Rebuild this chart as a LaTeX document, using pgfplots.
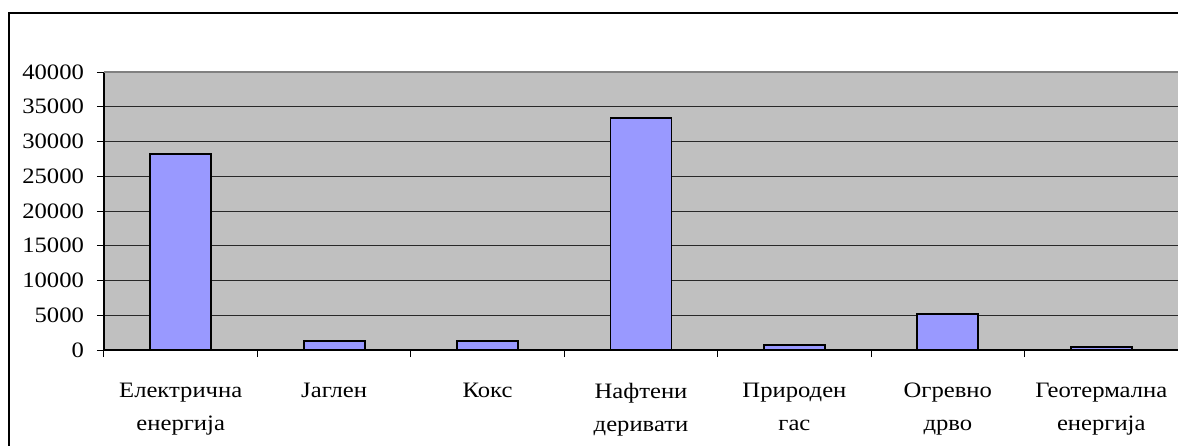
\documentclass[border=0pt]{standalone}
\usepackage{pgfplots}
\pgfplotsset{compat=1.18}
\usepackage{fontspec}
\setmainfont[FakeStretch=1.12]{Liberation Serif}
\definecolor{plotbg}{RGB}{192,192,192}
\definecolor{barfill}{RGB}{153,153,255}
\definecolor{topline}{RGB}{128,128,128}
\definecolor{gridc}{RGB}{40,40,40}
\begin{document}
\begin{tikzpicture}
\useasboundingbox (-52pt,-48pt) rectangle (537pt,175pt);
\fill[white] (-52pt,-48pt) rectangle (537pt,175pt);
\fill[black] (-48.05pt,167.95pt) rectangle (537pt,169.05pt);
\fill[black] (-48.05pt,-48pt) rectangle (-46.95pt,169.05pt);
\begin{axis}[
  at={(0pt,0pt)}, anchor=south west,
  scale only axis,
  width=537pt, height=139pt,
  xmin=0, xmax=7, ymin=0, ymax=40000,
  axis x line*=bottom, axis y line*=left,
  axis line style={black, line width=0.6pt},
  axis background/.style={fill=plotbg},
  ytick={0,5000,...,40000},
  ymajorgrids, major grid style={gridc, line width=0.5pt},
  scaled y ticks=false,
  /pgf/number format/.cd, 1000 sep={}, assume math mode=true,
  /pgfplots/.cd,
  xtick={0.5,1.5,...,6.5},
  xticklabels={{Електрична\\енергија},{Јаглен},{Кокс},{Нафтени\\деривати},{Природен\\гас},{Огревно\\дрво},{Геотермална\\енергија}},
  minor xtick={0,1,...,7},
  tick align=outside,
  major tick length=3.5pt, minor tick length=3.5pt,
  x tick style={draw=none},
  minor x tick style={draw=black, line width=0.5pt},
  y tick style={black, line width=0.5pt},
  yticklabel style={font=\fontsize{11}{13}\selectfont, xshift=-3pt},
  xticklabel style={font=\fontsize{11}{16.5}\selectfont, align=center, yshift=-9.5pt},
  ybar, bar width=30.5pt,
  clip=false,
]
\addplot[fill=barfill, draw=black, line width=0.9pt] coordinates {
  (0.5,28150) (1.5,1300) (2.5,1300) (3.5,33400) (4.5,680) (5.5,5230) (6.5,450)
};
\draw[topline, line width=1pt] (rel axis cs:0,1) -- (rel axis cs:1,1);
\end{axis}
\end{tikzpicture}
\end{document}
